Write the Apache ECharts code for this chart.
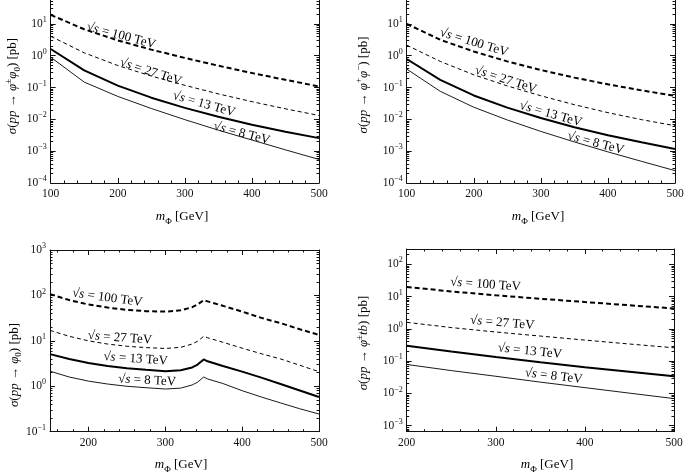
<!DOCTYPE html>
<html><head><meta charset="utf-8">
<script src="https://cdn.jsdelivr.net/npm/echarts@6/dist/echarts.min.js"></script>
<style>html,body{margin:0;padding:0;background:#fff}#c{width:685px;height:475px}</style>
</head><body><div id="c"></div>
<script>
// ---------- data ----------
const ENERGIES = ['100', '27', '13', '8'];

// panel 1: pp -> phi+- phi0
const X_P1 = [100, 150, 200, 250, 300, 350, 400, 450, 500];
const P1_100 = [19.1, 6.76, 3.02, 1.55, 0.85, 0.484, 0.285, 0.174, 0.108];
const P1_27  = [4.07, 1.23, 0.49, 0.229, 0.117, 0.063, 0.0359, 0.0214, 0.0132];
const P1_13  = [1.62, 0.347, 0.115, 0.0479, 0.0229, 0.0120, 0.00676, 0.00407, 0.00257];
const P1_8   = [0.891, 0.148, 0.0525, 0.0219, 0.00977, 0.00457, 0.00224, 0.0011, 0.00055];

// panel 2: pp -> phi+ phi-
const X_P2 = [100, 150, 200, 250, 300, 350, 400, 450, 500];
const P2_100 = [10, 3.16, 1.35, 0.66, 0.355, 0.204, 0.126, 0.0813, 0.055];
const P2_27  = [2.14, 0.66, 0.251, 0.112, 0.055, 0.0288, 0.0162, 0.0098, 0.0063];
const P2_13  = [0.785, 0.174, 0.0562, 0.0234, 0.011, 0.00562, 0.00316, 0.0019, 0.00117];
const P2_8   = [0.38, 0.0759, 0.024, 0.00955, 0.00417, 0.00195, 0.00095, 0.00048, 0.000245];

// panel 3: pp -> phi0
const X_P3 = [150, 175, 200, 225, 250, 275, 300, 320, 335, 342, 350, 355, 375, 400, 425, 450, 475, 500];
const P3_100 = [107, 79, 63, 54, 48, 45, 44, 47, 55, 63, 79, 74, 59, 44, 32, 24.5, 18, 13.5];
const P3_27  = [17, 12.6, 10, 8.5, 7.6, 7.1, 6.8, 7.2, 8.5, 9.8, 12.6, 11.7, 9.3, 6.9, 5.2, 4.0, 2.9, 2.1];
const P3_13  = [5.1, 4.0, 3.25, 2.8, 2.5, 2.3, 2.15, 2.25, 2.6, 3.0, 3.9, 3.55, 2.8, 2.1, 1.55, 1.12, 0.81, 0.58];
const P3_8   = [2.15, 1.6, 1.3, 1.12, 1.0, 0.93, 0.87, 0.91, 1.07, 1.23, 1.6, 1.45, 1.15, 0.8, 0.58, 0.43, 0.32, 0.245];

// panel 4: pp -> phi+- t b
const X_P4 = [200, 250, 300, 350, 400, 450, 500];
const P4_100 = [20, 14.5, 11, 8.6, 6.8, 5.4, 4.3];
const P4_27  = [1.6, 1.1, 0.80, 0.60, 0.45, 0.34, 0.26];
const P4_13  = [0.302, 0.20, 0.135, 0.093, 0.065, 0.047, 0.034];
const P4_8   = [0.079, 0.051, 0.034, 0.0224, 0.0151, 0.0102, 0.0069];

// axis tick labels
const X_TICKS_P1 = [100, 200, 300, 400, 500];
const X_TICKS_P3 = [200, 300, 400, 500];
const X_TICKS_P4 = [200, 300, 400, 500];

// ---------- layout / style ----------
const FONT = 'Liberation Serif';
const INK = '#111';
const LINE_STYLES = {
  '100': {width: 2, type: [5, 3]},
  '27':  {width: 1, type: [4, 3]},
  '13':  {width: 2, type: 'solid'},
  '8':   {width: 0.9, type: 'solid'}
};

const PANELS = [
  {grid: {left: 50.7, top: -8, width: 268.3, height: 191}, x: X_P1, xMin: 100, xMax: 500, xTicks: X_TICKS_P1,
   yMin: 1e-4, yMax: 100, yLabelMax: 10, ys: [P1_100, P1_27, P1_13, P1_8],
   xTitle: [182, 217], yTitle: [13, 86], proc: '{i|σ}{r|(}{i|pp}{r| → }{i|φ}{sup|±}{i|φ}{sub|0}{r|) [pb]}',
   labels: [[205, 4.2, -15], [249, 0.31, -18], [328.6, 0.030, -16], [384.7, 0.0036, -15]]},
  {grid: {left: 406.7, top: -8, width: 268.3, height: 191}, x: X_P2, xMin: 100, xMax: 500, xTicks: X_TICKS_P1,
   yMin: 1e-4, yMax: 100, yLabelMax: 10, ys: [P2_100, P2_27, P2_13, P2_8],
   xTitle: [538, 217], yTitle: [363.5, 85], proc: '{i|σ}{r|(}{i|pp}{r| → }{i|φ}{sup|+}{i|φ}{sup|−}{r|) [pb]}',
   labels: [[200.3, 2.58, -17], [247.6, 0.174, -18], [314.7, 0.0145, -16], [381.7, 0.00178, -15]]},
  {grid: {left: 50, top: 250, width: 269, height: 181.7}, x: X_P3, xMin: 150, xMax: 500, xTicks: X_TICKS_P3,
   yMin: 0.1, yMax: 1000, yLabelMax: 1000, ys: [P3_100, P3_27, P3_13, P3_8],
   xTitle: [181, 465], yTitle: [14.5, 365], proc: '{i|σ}{r|(}{i|pp}{r| → }{i|φ}{sub|0}{r|) [pb]}',
   labels: [[224.5, 88.5, -8], [241, 11.6, -4], [261.4, 4.0, -4], [276.5, 1.34, -3]]},
  {grid: {left: 406.7, top: 249, width: 267.3, height: 182.7}, x: X_P4, xMin: 200, xMax: 500, xTicks: X_TICKS_P4,
   yMin: 6.5e-4, yMax: 300, yLabelMax: 300, ys: [P4_100, P4_27, P4_13, P4_8],
   xTitle: [547, 465], yTitle: [364, 343], proc: '{i|σ}{r|(}{i|pp}{r| → }{i|φ}{sup|±}{i|tb}{r|) [pb]}',
   labels: [[288.5, 23.6, -4], [307.2, 1.53, -5], [338.2, 0.202, -6], [365, 0.034, -7]]}
];

function xMinors(min, max, majors) {
  const out = [];
  for (let v = Math.ceil(min / 20) * 20; v <= max; v += 20) if (majors.indexOf(v) < 0 && v > min && v < max) out.push(v);
  return out;
}
function logMajors(min, max) {
  const out = [];
  for (let e = Math.ceil(Math.log10(min) - 1e-9); e <= Math.floor(Math.log10(max) + 1e-9); e++) out.push(Math.pow(10, e));
  return out;
}
function logMinors(min, max) {
  const out = [];
  for (let e = Math.floor(Math.log10(min)); e <= Math.ceil(Math.log10(max)); e++)
    for (let k = 2; k <= 9; k++) { const v = k * Math.pow(10, e); if (v > min && v < max) out.push(v); }
  return out;
}

const grids = [], xAxes = [], yAxes = [], series = [];
const axisLineStyle = {show: true, lineStyle: {color: INK, width: 1}};
const richTick = {
  b: {fontFamily: FONT, fontSize: 11.5, color: INK, lineHeight: 16},
  s: {fontFamily: FONT, fontSize: 8, color: INK, lineHeight: 9, verticalAlign: 'top'}
};

PANELS.forEach((P, p) => {
  grids.push(Object.assign({containLabel: false, outerBoundsMode: 'none'}, P.grid));
  const xb = xAxes.length, yb = yAxes.length;
  const xm = xMinors(P.xMin, P.xMax, P.xTicks);
  const ym = logMajors(P.yMin, P.yMax), yn = logMinors(P.yMin, P.yMax);
  const yl = ym.filter(v => v <= P.yLabelMax);
  const xBase = {gridIndex: p, type: 'value', min: P.xMin, max: P.xMax, splitLine: {show: false}};
  xAxes.push(Object.assign({}, xBase, {position: 'bottom', axisLine: axisLineStyle,
    axisTick: {inside: true, length: 5, customValues: P.xTicks, lineStyle: {color: INK}},
    axisLabel: {customValues: P.xTicks, fontFamily: FONT, fontSize: 11.5, color: INK, margin: 5}}));
  xAxes.push(Object.assign({}, xBase, {position: 'bottom', axisLine: {show: false},
    axisTick: {inside: true, length: 2.5, customValues: xm, lineStyle: {color: INK}}, axisLabel: {show: false}}));
  xAxes.push(Object.assign({}, xBase, {position: 'top', axisLine: axisLineStyle,
    axisTick: {inside: true, length: 5, customValues: P.xTicks, lineStyle: {color: INK}}, axisLabel: {show: false}}));
  xAxes.push(Object.assign({}, xBase, {position: 'top', axisLine: {show: false},
    axisTick: {inside: true, length: 2.5, customValues: xm, lineStyle: {color: INK}}, axisLabel: {show: false}}));
  const yBase = {gridIndex: p, type: 'log', logBase: 10, min: P.yMin, max: P.yMax, splitLine: {show: false}};
  yAxes.push(Object.assign({}, yBase, {position: 'left', axisLine: axisLineStyle,
    axisTick: {inside: true, length: 5, customValues: ym, lineStyle: {color: INK}},
    axisLabel: {customValues: yl, margin: 4, rich: richTick,
      formatter: v => { const e = Math.round(Math.log10(v)); return '{b|10}{s|' + String(e).replace('-', '−') + '}'; }}}));
  yAxes.push(Object.assign({}, yBase, {position: 'left', axisLine: {show: false},
    axisTick: {inside: true, length: 2.5, customValues: yn, lineStyle: {color: INK}}, axisLabel: {show: false}}));
  yAxes.push(Object.assign({}, yBase, {position: 'right', axisLine: axisLineStyle,
    axisTick: {inside: true, length: 5, customValues: ym, lineStyle: {color: INK}}, axisLabel: {show: false}}));
  yAxes.push(Object.assign({}, yBase, {position: 'right', axisLine: {show: false},
    axisTick: {inside: true, length: 2.5, customValues: yn, lineStyle: {color: INK}}, axisLabel: {show: false}}));
  P.xb = xb; P.yb = yb;
  ENERGIES.forEach((E, k) => {
    series.push({type: 'line', xAxisIndex: xb, yAxisIndex: yb, symbol: 'none', smooth: false, animation: false,
      lineStyle: Object.assign({color: '#000'}, LINE_STYLES[E]), silent: true,
      data: P.x.map((xv, i) => [xv, P.ys[k][i]])});
  });
});

const chart = echarts.init(document.getElementById('c'), null, {renderer: 'canvas'});
chart.setOption({animation: false, backgroundColor: '#fff', grid: grids, xAxis: xAxes, yAxis: yAxes, series: series});

// ---------- annotations ----------
const richTitle = {
  i: {fontFamily: FONT, fontSize: 13, fontStyle: 'italic', color: INK, lineHeight: 18},
  r: {fontFamily: FONT, fontSize: 13, color: INK, lineHeight: 18},
  sup: {fontFamily: FONT, fontSize: 9, color: INK, lineHeight: 10, verticalAlign: 'top'},
  sub: {fontFamily: FONT, fontSize: 9, color: INK, lineHeight: 10, verticalAlign: 'bottom'}
};
const richLabel = {
  i: {fontFamily: FONT, fontSize: 13, fontStyle: 'italic', color: INK},
  r: {fontFamily: FONT, fontSize: 13, color: INK}
};
const graphics = [];
PANELS.forEach((P, p) => {
  graphics.push({type: 'text', x: P.xTitle[0], y: P.xTitle[1], silent: true,
    style: {text: '{i|m}{sub|Φ}{r| [GeV]}', rich: richTitle, align: 'center', verticalAlign: 'middle'}});
  graphics.push({type: 'text', x: P.yTitle[0], y: P.yTitle[1], rotation: Math.PI / 2, silent: true,
    style: {text: P.proc, rich: richTitle, align: 'center', verticalAlign: 'middle'}});
  P.labels.forEach((L, k) => {
    const pt = chart.convertToPixel({xAxisIndex: P.xb, yAxisIndex: P.yb}, [L[0], L[1]]);
    graphics.push({type: 'text', x: pt[0], y: pt[1], rotation: L[2] * Math.PI / 180, silent: true,
      style: {text: '{r|√}{i|s}{r| = ' + ENERGIES[k] + ' TeV}', rich: richLabel, align: 'center', verticalAlign: 'middle'}});
  });
});
chart.setOption({graphic: graphics});
</script></body></html>
